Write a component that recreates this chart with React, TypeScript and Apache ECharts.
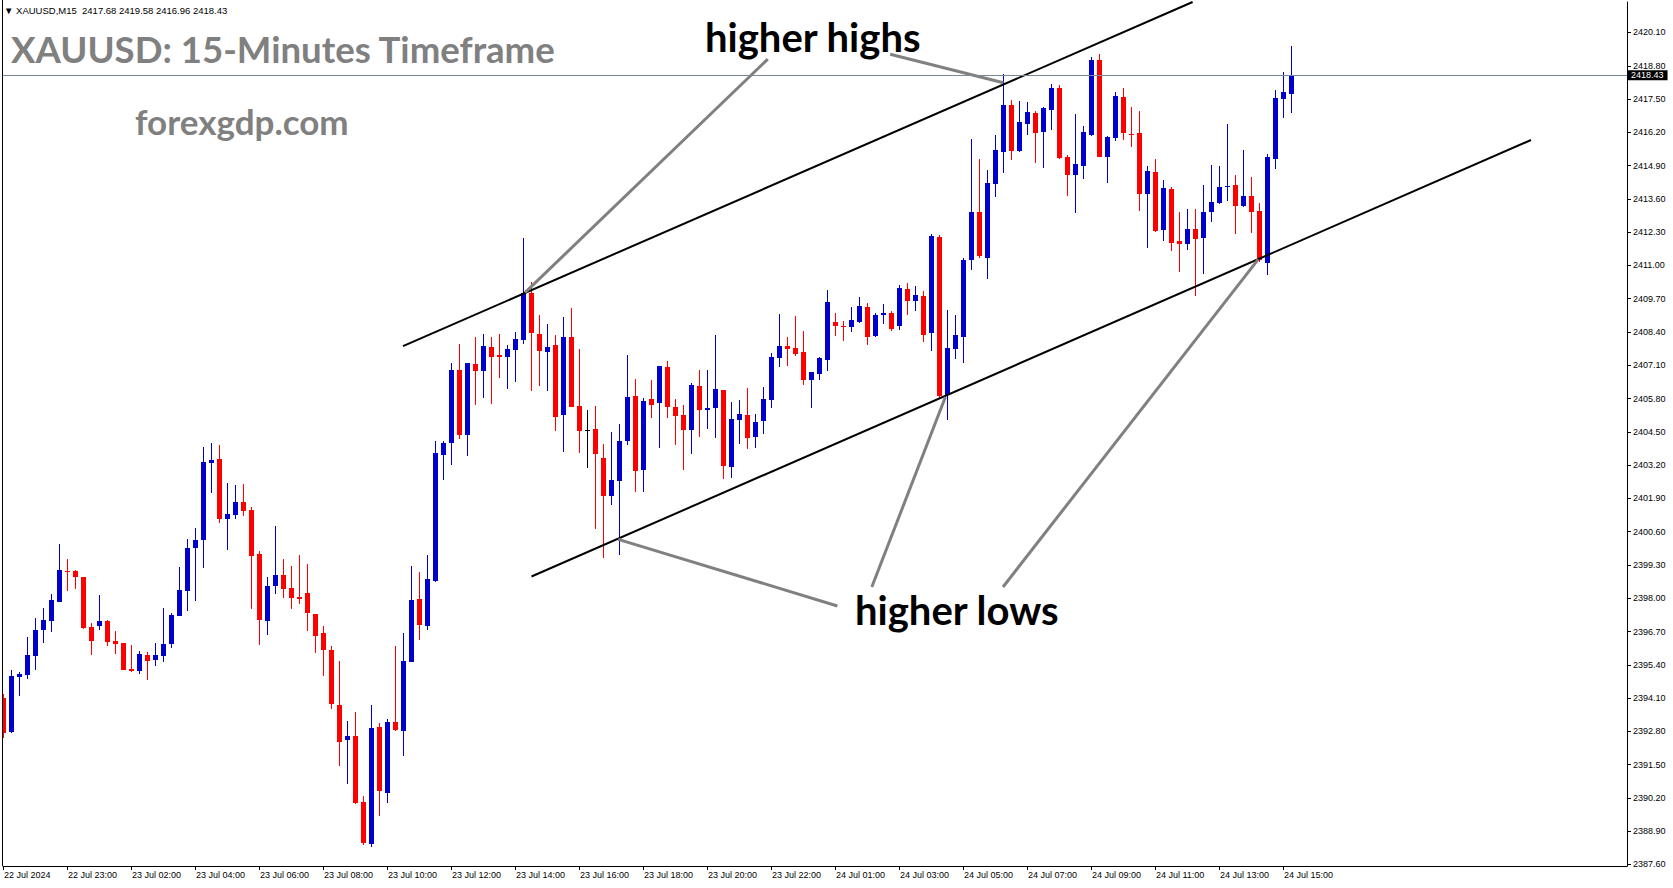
import React, { useEffect, useRef } from "react";
import * as echarts from "echarts";

// ---------- DATA ----------
const opens = [
  2394.09, 2392.79, 2394.94, 2395.0, 2395.76, 2396.76, 2397.11, 2397.85, 2399.06, 2399.06,
  2398.83, 2396.88, 2396.92, 2397.11, 2396.33, 2396.25, 2395.24, 2395.16, 2395.78, 2395.59,
  2395.74, 2396.21, 2397.31, 2398.28, 2399.96, 2400.28, 2403.3, 2403.44, 2401.1, 2401.25,
  2401.76, 2401.45, 2399.73, 2397.11, 2398.48, 2398.91, 2398.4, 2398.05, 2398.21, 2397.39,
  2396.64, 2395.98, 2393.83, 2392.46, 2392.62, 2390.04, 2388.4, 2392.97, 2390.39, 2393.17,
  2392.81, 2395.51, 2397.97, 2396.92, 2398.67, 2403.6, 2404.07, 2406.92, 2404.38, 2407.15,
  2406.88, 2407.81, 2407.5, 2407.42, 2407.7, 2408.09, 2409.92, 2408.32, 2407.62, 2407.89,
  2405.16, 2408.21, 2405.51, 2404.57, 2404.61, 2403.48, 2401.99, 2402.58, 2404.14, 2405.9,
  2403.01, 2405.78, 2405.63, 2407.03, 2405.47, 2405.16, 2404.57, 2406.29, 2405.35, 2405.43,
  2406.13, 2403.13, 2404.96, 2405.16, 2404.3, 2404.92, 2405.74, 2407.38, 2407.85, 2407.77,
  2407.62, 2406.53, 2406.76, 2407.31, 2408.79, 2408.64, 2408.6, 2408.79, 2409.38, 2408.24,
  2409.06, 2409.14, 2408.64, 2410.08, 2409.61, 2409.81, 2408.35, 2412.11, 2405.94, 2407.75,
  2408.22, 2411.21, 2413.09, 2411.29, 2414.18, 2415.43, 2417.27, 2415.47, 2416.53, 2416.96,
  2416.21, 2417.07, 2417.93, 2415.24, 2414.53, 2414.89, 2416.1, 2419.03, 2415.24, 2415.98,
  2417.58, 2416.14, 2416.17, 2413.79, 2414.65, 2412.39, 2413.99, 2411.96, 2411.84, 2412.43,
  2412.07, 2413.09, 2413.44, 2414.07, 2414.14, 2413.32, 2413.71, 2413.13, 2411.1, 2415.16,
  2417.5, 2417.68,
];
const closes = [
  2392.75, 2394.96, 2395.04, 2395.78, 2396.76, 2397.15, 2397.93, 2399.1, 2399.03, 2398.83,
  2396.84, 2396.33, 2397.11, 2396.29, 2396.21, 2395.2, 2395.16, 2395.82, 2395.55, 2395.78,
  2396.21, 2397.35, 2398.32, 2399.96, 2400.28, 2403.32, 2403.4, 2401.1, 2401.29, 2401.76,
  2401.41, 2399.65, 2397.15, 2398.48, 2398.91, 2398.36, 2398.01, 2397.97, 2397.43, 2396.53,
  2395.98, 2393.87, 2392.39, 2392.62, 2390.0, 2388.44, 2392.93, 2390.47, 2393.17, 2392.85,
  2395.55, 2397.93, 2396.96, 2398.75, 2403.67, 2404.07, 2406.92, 2404.38, 2407.19, 2406.88,
  2407.85, 2407.42, 2407.42, 2407.74, 2408.13, 2409.92, 2408.36, 2407.66, 2407.81, 2405.08,
  2408.21, 2405.47, 2404.53, 2404.57, 2403.64, 2401.99, 2402.62, 2404.14, 2405.86, 2402.97,
  2405.71, 2405.55, 2407.07, 2405.47, 2405.12, 2404.57, 2406.33, 2405.35, 2405.43, 2406.17,
  2403.17, 2405.0, 2405.2, 2404.26, 2404.88, 2405.78, 2407.42, 2407.85, 2407.74, 2407.54,
  2406.53, 2406.84, 2407.38, 2409.57, 2408.64, 2408.6, 2408.87, 2409.42, 2408.21, 2409.06,
  2409.14, 2408.52, 2410.12, 2409.61, 2409.85, 2408.28, 2412.15, 2405.9, 2407.78, 2408.28,
  2411.21, 2413.09, 2411.37, 2414.22, 2415.51, 2417.27, 2415.47, 2416.6, 2417.0, 2416.17,
  2417.15, 2417.93, 2415.2, 2414.53, 2414.96, 2416.21, 2419.03, 2415.24, 2416.02, 2417.62,
  2416.17, 2416.1, 2413.79, 2414.69, 2412.35, 2414.03, 2411.88, 2411.84, 2412.43, 2412.04,
  2413.09, 2413.48, 2414.07, 2414.1, 2413.32, 2413.71, 2413.09, 2411.21, 2415.24, 2417.54,
  2417.78, 2418.43,
];
const lows = [
  2392.53, 2392.75, 2394.18, 2394.85, 2395.2, 2396.25, 2396.68, 2397.85, 2398.28, 2398.36,
  2396.8, 2395.78, 2396.76, 2396.14, 2395.82, 2395.2, 2395.12, 2395.04, 2394.81, 2395.35,
  2395.51, 2396.06, 2397.31, 2397.5, 2397.89, 2399.18, 2402.11, 2400.94, 2399.89, 2401.1,
  2401.21, 2397.58, 2396.17, 2396.56, 2398.17, 2398.01, 2397.58, 2397.78, 2396.72, 2395.86,
  2394.96, 2393.67, 2391.45, 2390.74, 2389.96, 2388.36, 2388.28, 2389.49, 2390.0, 2392.81,
  2391.84, 2395.51, 2396.37, 2396.76, 2398.63, 2402.62, 2403.2, 2404.22, 2403.56, 2405.55,
  2405.82, 2405.59, 2406.6, 2406.17, 2406.45, 2407.93, 2406.1, 2406.29, 2406.1, 2404.53,
  2403.71, 2405.47, 2403.67, 2403.09, 2400.71, 2399.57, 2401.64, 2399.69, 2403.99, 2402.15,
  2402.15, 2405.04, 2403.87, 2405.04, 2403.99, 2403.01, 2403.64, 2404.3, 2404.61, 2404.26,
  2402.66, 2402.7, 2404.03, 2403.83, 2403.87, 2404.42, 2405.43, 2407.03, 2407.07, 2407.46,
  2406.33, 2405.43, 2406.53, 2406.88, 2408.24, 2408.05, 2408.4, 2408.75, 2407.89, 2408.21,
  2408.71, 2408.44, 2408.48, 2409.06, 2409.22, 2408.02, 2407.67, 2405.81, 2404.96, 2407.36,
  2407.2, 2410.82, 2411.29, 2410.47, 2413.67, 2414.61, 2415.12, 2415.43, 2416.1, 2415.0,
  2414.81, 2416.29, 2415.16, 2413.71, 2413.05, 2414.38, 2416.06, 2415.24, 2414.22, 2415.86,
  2415.9, 2415.63, 2413.13, 2411.68, 2412.31, 2411.96, 2411.57, 2410.75, 2411.61, 2409.81,
  2410.67, 2412.7, 2413.4, 2413.52, 2412.23, 2413.28, 2412.27, 2411.14, 2410.63, 2414.77,
  2416.76, 2416.96,
];
const highs = [
  2394.26, 2395.2, 2395.11, 2396.49, 2397.23, 2397.62, 2398.17, 2400.12, 2399.53, 2399.1,
  2398.83, 2397.03, 2398.13, 2397.15, 2396.72, 2396.25, 2396.17, 2395.94, 2395.9, 2396.25,
  2397.62, 2397.42, 2399.22, 2400.31, 2400.74, 2403.91, 2404.06, 2403.99, 2402.5, 2402.42,
  2402.46, 2401.56, 2399.85, 2398.83, 2400.82, 2399.53, 2399.26, 2399.69, 2399.34, 2397.39,
  2396.92, 2396.13, 2395.55, 2393.2, 2393.56, 2390.28, 2393.83, 2393.13, 2393.28, 2396.13,
  2396.64, 2399.26, 2399.03, 2399.69, 2404.14, 2404.14, 2407.19, 2407.93, 2407.19, 2408.21,
  2408.32, 2408.21, 2408.32, 2407.89, 2408.4, 2412.06, 2410.35, 2409.06, 2408.71, 2408.28,
  2408.99, 2409.34, 2407.74, 2405.35, 2405.51, 2404.03, 2404.49, 2404.81, 2407.5, 2406.56,
  2405.82, 2406.53, 2407.07, 2407.27, 2405.78, 2405.55, 2406.41, 2406.92, 2406.92, 2408.28,
  2406.13, 2405.67, 2405.74, 2406.21, 2405.2, 2406.25, 2407.58, 2409.1, 2408.21, 2409.03,
  2408.44, 2406.84, 2407.42, 2410.04, 2409.14, 2408.83, 2409.38, 2409.77, 2409.53, 2409.14,
  2409.49, 2409.22, 2410.24, 2410.31, 2410.2, 2410.0, 2412.23, 2412.19, 2409.26, 2409.06,
  2411.28, 2415.94, 2415.16, 2414.73, 2416.1, 2418.48, 2417.47, 2417.43, 2417.39, 2417.04,
  2417.19, 2418.09, 2418.05, 2415.32, 2416.92, 2416.45, 2419.14, 2419.26, 2416.06, 2417.78,
  2417.93, 2417.19, 2417.04, 2414.89, 2415.16, 2414.34, 2414.07, 2413.09, 2413.21, 2413.21,
  2414.14, 2414.92, 2414.89, 2416.53, 2414.53, 2415.51, 2414.46, 2413.44, 2415.35, 2417.85,
  2418.56, 2419.58,
];

const timeLabels = [
  "22 Jul 2024", "22 Jul 23:00", "23 Jul 02:00", "23 Jul 04:00", "23 Jul 06:00",
  "23 Jul 08:00", "23 Jul 10:00", "23 Jul 12:00", "23 Jul 14:00", "23 Jul 16:00",
  "23 Jul 18:00", "23 Jul 20:00", "23 Jul 22:00", "24 Jul 01:00", "24 Jul 03:00",
  "24 Jul 05:00", "24 Jul 07:00", "24 Jul 09:00", "24 Jul 11:00", "24 Jul 13:00",
  "24 Jul 15:00",
];
const timeLabelBars = [0, 8, 16, 24, 32, 40, 48, 56, 64, 72, 80, 88, 96, 104, 112, 120, 128, 136, 144, 152, 160];

const priceTicks = [
  2387.6, 2388.9, 2390.2, 2391.5, 2392.8, 2394.1, 2395.4, 2396.7, 2398.0, 2399.3,
  2400.6, 2401.9, 2403.2, 2404.5, 2405.8, 2407.1, 2408.4, 2409.7, 2411.0, 2412.3,
  2413.6, 2414.9, 2416.2, 2417.5, 2418.8, 2420.1,
];

const currentPrice = 2418.43;
const headerText = "\u25BC XAUUSD,M15  2417.68 2419.58 2416.96 2418.43";
const titleText = "XAUUSD: 15-Minutes Timeframe";
const siteText = "forexgdp.com";
const highsText = "higher highs";
const lowsText = "higher lows";

// trend lines, [bar index, price]
const upperChannel = [[50.0, 2407.85], [148.7, 2421.29]];
const lowerChannel = [[66.06, 2398.85], [191.0, 2415.9]];
const pointerLines = [
  [[95.6, 2419.06], [65.25, 2409.94]],
  [[110.9, 2419.25], [125.04, 2418.14]],
  [[76.9, 2400.3], [104.3, 2397.7]],
  [[117.8, 2405.86], [108.6, 2398.44]],
  [[156.9, 2411.24], [125.0, 2398.44]],
];

// ---------- STYLE ----------
const BULL = "#0000CD";
const BEAR = "#FF0000";
const DOJI = "#000000";
const AXIS_FONT = "'Liberation Sans', 'DejaVu Sans', sans-serif";
const BIG_FONT = "Lato, 'Open Sans', sans-serif";
const Y_MIN = 2387.5414;
const Y_MAX = 2421.2914;

export default function App() {
  const ref = useRef<HTMLDivElement | null>(null);

  useEffect(() => {
    if (!ref.current) return;
    const chart = echarts.init(ref.current, null, { renderer: "svg" });

    const candles = opens.map((o, i) => [i, o, closes[i], lows[i], highs[i]]);

    const renderItem = (params: any, api: any) => {
      const idx = api.value(0);
      const o = api.value(1);
      const c = api.value(2);
      const l = api.value(3);
      const h = api.value(4);
      const pO = api.coord([idx, o]);
      const pC = api.coord([idx, c]);
      const pL = api.coord([idx, l]);
      const pH = api.coord([idx, h]);
      const cx = Math.round(pO[0]);
      const color = c > o ? BULL : c < o ? BEAR : DOJI;
      const yTop = Math.round(Math.min(pO[1], pC[1]));
      let yBot = Math.round(Math.max(pO[1], pC[1]));
      if (yBot - yTop < 1) yBot = yTop + 1;
      const wTop = Math.round(pH[1]);
      let wBot = Math.round(pL[1]);
      if (wBot - wTop < 1) wBot = wTop + 1;
      return {
        type: "group",
        children: [
          { type: "rect", shape: { x: cx, y: wTop, width: 1, height: wBot - wTop }, style: { fill: color } },
          { type: "rect", shape: { x: cx - 2, y: yTop, width: 5, height: yBot - yTop }, style: { fill: color } },
        ],
      };
    };

    const lineSeries = (data: number[][], color: string, width: number, z: number) => ({
      type: "line",
      data,
      showSymbol: false,
      symbol: "none",
      silent: true,
      clip: true,
      animation: false,
      lineStyle: { color, width },
      z,
    });

    const option: any = {
      animation: false,
      backgroundColor: "#ffffff",
      grid: { left: 3, right: 46, top: 2, bottom: 22, show: false, containLabel: false, outerBoundsMode: "none" },
      xAxis: {
        type: "value",
        min: 0,
        max: 203,
        position: "bottom",
        axisLine: { show: true, onZero: false, lineStyle: { color: "#000", width: 1 } },
        axisTick: { show: true, customValues: timeLabelBars, length: 4, lineStyle: { color: "#000" } },
        axisLabel: {
          customValues: timeLabelBars,
          formatter: (v: number) => {
            const i = timeLabelBars.indexOf(Math.round(v));
            return i >= 0 ? timeLabels[i] : "";
          },
          align: "left",
          margin: 4,
          padding: [0, 0, 0, 1],
          color: "#000",
          fontFamily: AXIS_FONT,
          fontSize: 9,
        },
        splitLine: { show: false },
      },
      yAxis: {
        type: "value",
        position: "right",
        min: Y_MIN,
        max: Y_MAX,
        axisLine: { show: true, onZero: false, lineStyle: { color: "#000", width: 1 } },
        axisTick: { show: true, customValues: priceTicks, length: 4, lineStyle: { color: "#000" } },
        axisLabel: {
          customValues: priceTicks,
          formatter: (v: number) => v.toFixed(2),
          margin: 6,
          color: "#000",
          fontFamily: AXIS_FONT,
          fontSize: 9,
        },
        splitLine: { show: false },
      },
      series: [
        {
          type: "line",
          data: [],
          silent: true,
          clip: false,
          z: 1,
          markLine: {
            silent: true,
            symbol: ["none", "none"],
            animation: false,
            data: [{ yAxis: currentPrice }],
            lineStyle: { color: "#778899", width: 1, type: "solid" },
            emphasis: { disabled: true },
            label: {
              show: true,
              position: "end",
              distance: 1,
              formatter: () => currentPrice.toFixed(2),
              color: "#ffffff",
              backgroundColor: "#000000",
              padding: [1, 4, 0, 3],
              fontFamily: AXIS_FONT,
              fontSize: 9,
            },
          },
        },
        {
          type: "custom",
          data: candles,
          encode: { x: 0, y: [1, 2, 3, 4] },
          renderItem,
          clip: true,
          silent: true,
          z: 2,
        },
        lineSeries(upperChannel, "#000000", 2, 3),
        lineSeries(lowerChannel, "#000000", 2, 3),
        ...pointerLines.map((d) => lineSeries(d, "#808080", 3, 4)),
      ],
      graphic: [
        { type: "line", shape: { x1: 2.5, y1: 0, x2: 2.5, y2: 866 }, style: { stroke: "#000", lineWidth: 1 }, z: 50, silent: true },
        {
          type: "text", x: 4, y: 10, z: 100, silent: true,
          style: { text: headerText, fill: "#000", font: `9.5px ${AXIS_FONT}`, textVerticalAlign: "middle" },
        },
        {
          type: "text", x: 11, y: 49, z: 100, silent: true,
          style: { text: titleText, fill: "#808080", font: `bold 36.6px ${BIG_FONT}`, textVerticalAlign: "middle" },
        },
        {
          type: "text", x: 135, y: 121, z: 100, silent: true,
          style: { text: siteText, fill: "#808080", font: `bold 35px ${BIG_FONT}`, textVerticalAlign: "middle" },
        },
        {
          type: "text", x: 705, y: 37, z: 100, silent: true,
          style: { text: highsText, fill: "#000", font: `bold 40px ${BIG_FONT}`, textVerticalAlign: "middle" },
        },
        {
          type: "text", x: 855, y: 610, z: 100, silent: true,
          style: { text: lowsText, fill: "#000", font: `bold 40px ${BIG_FONT}`, textVerticalAlign: "middle" },
        },
      ],
    };

    chart.setOption(option);
    return () => chart.dispose();
  }, []);

  return (
    <div
      ref={ref}
      style={{ position: "fixed", left: 0, top: 0, width: 1673, height: 888, background: "#fff" }}
    />
  );
}
